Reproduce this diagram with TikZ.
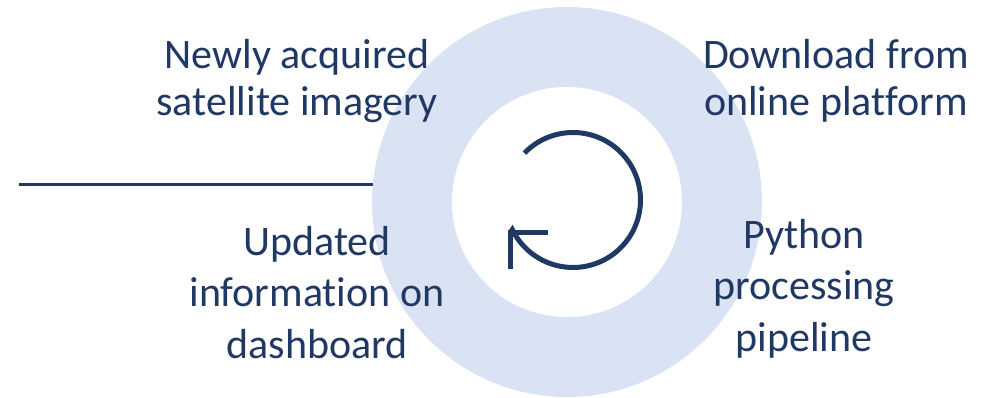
\documentclass[tikz,border=0pt]{standalone}
\usepackage{fontspec}
\setmainfont{Carlito}[Ligatures={NoCommon,NoRequired,NoContextual}]
\usetikzlibrary{calc}
\definecolor{navy}{HTML}{203864}
\definecolor{ringblue}{HTML}{DAE3F3}
\tikzset{
  label text/.style={text=navy, align=center, inner sep=0pt, anchor=base},
  tight/.style={font=\fontsize{42}{47}\selectfont},
  loose/.style={font=\fontsize{42}{51.5}\selectfont},
  cycle arrow/.style={draw=navy, line width=5pt},
}
\begin{document}
\begin{tikzpicture}[x=1pt, y=-1pt]
  \useasboundingbox (0,0) rectangle (986,398);
  % light ring with white core
  \fill[ringblue] (567,202) circle (195);
  \fill[white] (567,202) circle (115);
  % separator rule on the left
  \coordinate (ruleL) at (19,185);
  \coordinate (ruleR) at (373,185);
  \draw[navy, line width=3pt] (ruleL) -- (ruleR);
  % circular refresh arrow
  \coordinate (hub) at (573,200);
  \coordinate (tip) at (510,233);
  \draw[cycle arrow] (hub) ++(224:67.5) arc[start angle=224, end angle=514, radius=67.5] -- (tip);
  \draw[cycle arrow, miter limit=10] ($(tip)+(38,0)$) -- (tip) -- ($(tip)+(0,36)$);
  % stage labels (anchored on the baseline of their last line)
  \node[label text, tight] (newdata) at (297,116) {Newly acquired\\satellite imagery};
  \node[label text, tight] (download) at (836,116) {Download from\\online platform};
  \node[label text, loose] (python) at (804,351) {Python\\processing\\pipeline};
  \node[label text, loose] (dashboard) at (317,358) {Updated\\information on\\dashboard};
\end{tikzpicture}
\end{document}
